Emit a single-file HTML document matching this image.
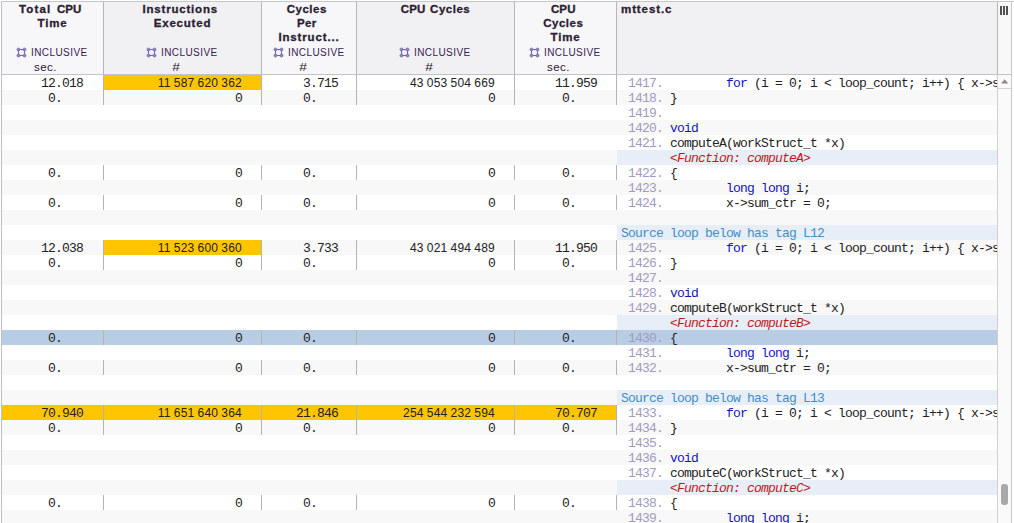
<!DOCTYPE html>
<html><head><meta charset="utf-8"><title>mttest.c</title>
<style>
html,body{margin:0;padding:0;}
body{width:1014px;height:523px;overflow:hidden;background:#fff;position:relative;font-family:"Liberation Sans",sans-serif;color:#222;}
div,span{box-sizing:border-box;}
.a{position:absolute;}
.row{position:absolute;left:2px;width:995px;height:15px;}
.m{position:absolute;top:1px;height:15px;line-height:15px;font-family:"Liberation Mono",monospace;font-size:13px;letter-spacing:-0.8px;white-space:pre;color:#222;}
.n{position:absolute;top:1px;height:15px;line-height:15px;font-family:"Liberation Sans",sans-serif;font-size:12px;letter-spacing:0.25px;word-spacing:-0.6px;white-space:pre;color:#222;text-align:right;}
.c{position:absolute;top:1px;left:621px;height:15px;line-height:15px;font-family:"Liberation Mono",monospace;font-size:13px;letter-spacing:-0.8px;white-space:pre;color:#222;}
.ln{color:#A19BBD;}
.k{color:#1414BE;}
.fn{color:#C01818;font-style:italic;}
.lp{color:#3F8FC6;}
.sep{position:absolute;top:0;width:1px;height:15px;background:#B4B4B4;}
.hd{position:absolute;top:2px;height:72px;}
.ht{position:absolute;left:0;right:0;top:0;text-align:center;font-weight:bold;font-size:11.5px;line-height:14px;letter-spacing:0.62px;-webkit-text-stroke:0.3px #2A2030;color:#2A2030;}
.hi{position:absolute;top:43px;height:15px;text-align:left;font-size:10px;letter-spacing:0.42px;line-height:15px;color:#38204F;white-space:nowrap;}
.hu{position:absolute;left:0;right:14px;top:58px;height:15px;text-align:center;font-size:11.5px;letter-spacing:0.5px;line-height:15px;color:#2A2030;}
.ht i{display:inline-block;width:4.5px;}
.hi svg{vertical-align:-1.5px;margin-right:4px;margin-left:-1px;}
</style></head><body>

<div class="a" style="left:2px;top:75px;width:995px;height:15px;background:#fff"></div>
<div class="a" style="left:2px;top:90px;width:995px;height:15px;background:#F8F8F8"></div>
<div class="a" style="left:2px;top:105px;width:995px;height:15px;background:#fff"></div>
<div class="a" style="left:2px;top:120px;width:995px;height:15px;background:#F8F8F8"></div>
<div class="a" style="left:2px;top:135px;width:995px;height:15px;background:#fff"></div>
<div class="a" style="left:2px;top:150px;width:995px;height:15px;background:#F8F8F8"></div>
<div class="a" style="left:2px;top:165px;width:995px;height:15px;background:#fff"></div>
<div class="a" style="left:2px;top:180px;width:995px;height:15px;background:#F8F8F8"></div>
<div class="a" style="left:2px;top:195px;width:995px;height:15px;background:#fff"></div>
<div class="a" style="left:2px;top:210px;width:995px;height:15px;background:#F8F8F8"></div>
<div class="a" style="left:2px;top:225px;width:995px;height:15px;background:#fff"></div>
<div class="a" style="left:2px;top:240px;width:995px;height:15px;background:#F8F8F8"></div>
<div class="a" style="left:2px;top:255px;width:995px;height:15px;background:#fff"></div>
<div class="a" style="left:2px;top:270px;width:995px;height:15px;background:#F8F8F8"></div>
<div class="a" style="left:2px;top:285px;width:995px;height:15px;background:#fff"></div>
<div class="a" style="left:2px;top:300px;width:995px;height:15px;background:#F8F8F8"></div>
<div class="a" style="left:2px;top:315px;width:995px;height:15px;background:#fff"></div>
<div class="a" style="left:2px;top:330px;width:995px;height:15px;background:#F8F8F8"></div>
<div class="a" style="left:2px;top:345px;width:995px;height:15px;background:#fff"></div>
<div class="a" style="left:2px;top:360px;width:995px;height:15px;background:#F8F8F8"></div>
<div class="a" style="left:2px;top:375px;width:995px;height:15px;background:#fff"></div>
<div class="a" style="left:2px;top:390px;width:995px;height:15px;background:#F8F8F8"></div>
<div class="a" style="left:2px;top:405px;width:995px;height:15px;background:#fff"></div>
<div class="a" style="left:2px;top:420px;width:995px;height:15px;background:#F8F8F8"></div>
<div class="a" style="left:2px;top:435px;width:995px;height:15px;background:#fff"></div>
<div class="a" style="left:2px;top:450px;width:995px;height:15px;background:#F8F8F8"></div>
<div class="a" style="left:2px;top:465px;width:995px;height:15px;background:#fff"></div>
<div class="a" style="left:2px;top:480px;width:995px;height:15px;background:#F8F8F8"></div>
<div class="a" style="left:2px;top:495px;width:995px;height:15px;background:#fff"></div>
<div class="a" style="left:2px;top:510px;width:995px;height:15px;background:#F8F8F8"></div>
<div class="hd" style="left:2px;width:101px;background:#F7F7FA">
<div class="ht" style="top:0px"><span style="letter-spacing:1.15px">Total</span><span style="letter-spacing:0;word-spacing:2.30px"> </span><span style="letter-spacing:0.10px">CPU</span><i></i><br><span style="letter-spacing:0.85px">Time</span></div>
<svg class="a" style="left:14px;top:45px" width="12" height="12" viewBox="0 0 12 12"><rect x="2.5" y="2.5" width="6" height="6" fill="none" stroke="#7367AD" stroke-width="1"/><g fill="#8F85C0" stroke="#6B5EA7" stroke-width="0.6"><circle cx="2.5" cy="2.5" r="1.55"/><circle cx="8.5" cy="2.5" r="1.55"/><circle cx="2.5" cy="8.5" r="1.55"/><circle cx="8.5" cy="8.5" r="1.55"/></g></svg>
<div class="hi" style="left:29px">INCLUSIVE</div>
<div class="hu">sec.</div>
</div>
<div class="hd" style="left:104px;width:157px;background:#F1F1F4">
<div class="ht" style="top:0px"><span style="letter-spacing:0.80px">Instructions</span><i></i><br><span style="letter-spacing:0.80px">Executed</span></div>
<svg class="a" style="left:42px;top:45px" width="12" height="12" viewBox="0 0 12 12"><rect x="2.5" y="2.5" width="6" height="6" fill="none" stroke="#7367AD" stroke-width="1"/><g fill="#8F85C0" stroke="#6B5EA7" stroke-width="0.6"><circle cx="2.5" cy="2.5" r="1.55"/><circle cx="8.5" cy="2.5" r="1.55"/><circle cx="2.5" cy="8.5" r="1.55"/><circle cx="8.5" cy="8.5" r="1.55"/></g></svg>
<div class="hi" style="left:57px">INCLUSIVE</div>
<div class="hu"><span style="display:inline-block;transform:scaleX(1.2);position:relative;left:1px">#</span></div>
</div>
<div class="hd" style="left:262px;width:94px;background:#F7F7FA">
<div class="ht" style="top:0px"><span style="letter-spacing:0.50px">Cycles</span><i></i><br><span style="letter-spacing:0.30px">Per</span><i></i><br><span style="letter-spacing:0.85px">Instruct...</span></div>
<svg class="a" style="left:11px;top:45px" width="12" height="12" viewBox="0 0 12 12"><rect x="2.5" y="2.5" width="6" height="6" fill="none" stroke="#7367AD" stroke-width="1"/><g fill="#8F85C0" stroke="#6B5EA7" stroke-width="0.6"><circle cx="2.5" cy="2.5" r="1.55"/><circle cx="8.5" cy="2.5" r="1.55"/><circle cx="2.5" cy="8.5" r="1.55"/><circle cx="8.5" cy="8.5" r="1.55"/></g></svg>
<div class="hi" style="left:26px">INCLUSIVE</div>
<div class="hu"><span style="display:inline-block;transform:scaleX(1.2);position:relative;left:1px">#</span></div>
</div>
<div class="hd" style="left:357px;width:157px;background:#F1F1F4">
<div class="ht" style="top:0px"><span style="letter-spacing:0.10px">CPU</span><span style="letter-spacing:0;word-spacing:1.50px"> </span><span style="letter-spacing:0.50px">Cycles</span></div>
<svg class="a" style="left:42px;top:45px" width="12" height="12" viewBox="0 0 12 12"><rect x="2.5" y="2.5" width="6" height="6" fill="none" stroke="#7367AD" stroke-width="1"/><g fill="#8F85C0" stroke="#6B5EA7" stroke-width="0.6"><circle cx="2.5" cy="2.5" r="1.55"/><circle cx="8.5" cy="2.5" r="1.55"/><circle cx="2.5" cy="8.5" r="1.55"/><circle cx="8.5" cy="8.5" r="1.55"/></g></svg>
<div class="hi" style="left:57px">INCLUSIVE</div>
<div class="hu"><span style="display:inline-block;transform:scaleX(1.2);position:relative;left:1px">#</span></div>
</div>
<div class="hd" style="left:515px;width:101px;background:#F7F7FA">
<div class="ht" style="top:0px"><span style="letter-spacing:0.10px">CPU</span><i></i><br><span style="letter-spacing:0.50px">Cycles</span><i></i><br><span style="letter-spacing:0.85px">Time</span></div>
<svg class="a" style="left:14px;top:45px" width="12" height="12" viewBox="0 0 12 12"><rect x="2.5" y="2.5" width="6" height="6" fill="none" stroke="#7367AD" stroke-width="1"/><g fill="#8F85C0" stroke="#6B5EA7" stroke-width="0.6"><circle cx="2.5" cy="2.5" r="1.55"/><circle cx="8.5" cy="2.5" r="1.55"/><circle cx="2.5" cy="8.5" r="1.55"/><circle cx="8.5" cy="8.5" r="1.55"/></g></svg>
<div class="hi" style="left:29px">INCLUSIVE</div>
<div class="hu">sec.</div>
</div>
<div class="hd" style="left:617px;width:380px;background:#F1F1F4"><div class="ht" style="top:0px;text-align:left;left:4px"><span style="letter-spacing:0.90px">mttest.c</span></div></div>
<div class="hd" style="left:998px;width:13px;background:#F8F8F8"></div>
<div class="a" style="left:1000px;top:6px;width:2px;height:9px;background:#505050"></div>
<div class="a" style="left:1003px;top:6px;width:2px;height:9px;background:#505050"></div>
<div class="a" style="left:1006px;top:6px;width:2px;height:9px;background:#505050"></div>
<div class="a" style="left:103px;top:2px;width:1px;height:72px;background:#B6B6BA"></div>
<div class="a" style="left:261px;top:2px;width:1px;height:72px;background:#B6B6BA"></div>
<div class="a" style="left:356px;top:2px;width:1px;height:72px;background:#B6B6BA"></div>
<div class="a" style="left:514px;top:2px;width:1px;height:72px;background:#B6B6BA"></div>
<div class="a" style="left:616px;top:2px;width:1px;height:72px;background:#B6B6BA"></div>
<div class="a" style="left:997px;top:2px;width:1px;height:72px;background:#B6B6BA"></div>
<div class="a" style="left:1px;top:1px;width:1013px;height:1px;background:#C6C6CA"></div>
<div class="a" style="left:1px;top:1px;width:1px;height:522px;background:#BEBEC2"></div>
<div class="a" style="left:1011px;top:1px;width:1px;height:522px;background:#C9C9CD"></div>
<div class="a" style="left:2px;top:74px;width:1009px;height:1px;background:#C2C2C8"></div>
<div class="a" style="left:997px;top:75px;width:1px;height:448px;background:#D0D0D2"></div>
<div class="a" style="left:998px;top:75px;width:13px;height:448px;background:#FAFAFA"></div>
<div class="a" style="left:998px;top:88px;width:13px;height:1px;background:#D2D2D6"></div>
<svg class="a" style="left:998px;top:75px" width="13" height="15" viewBox="0 0 13 15"><path d="M3.1 8.4 L6.65 4.3 L10.2 8.4 Z" fill="#888"/></svg>
<div class="a" style="left:1001px;top:484px;width:7px;height:21px;border-radius:3px;background:#A9A9A9"></div>
<div class="row" style="top:75px">
<div class="a" style="left:102px;top:0;width:157px;height:15px;background:#FFC600"></div>
<div class="sep" style="left:101px"></div>
<div class="sep" style="left:259px"></div>
<div class="sep" style="left:354px"></div>
<div class="sep" style="left:512px"></div>
<div class="sep" style="left:614px"></div>
<div class="m" style="left:39px">12.018</div>
<div class="n" style="left:120px;width:120px">11 587 620 362</div>
<div class="m" style="left:301px">3.715</div>
<div class="n" style="left:373px;width:120px">43 053 504 669</div>
<div class="m" style="left:553px">11.959</div>
<div class="c" style="left:619px;width:376px;overflow:hidden"><span class="ln"> 1417.</span>         <span class="k">for</span> (i = 0; i &lt; loop_count; i++) { x-&gt;sum_ctr++;</div>
</div>
<div class="row" style="top:90px">
<div class="sep" style="left:101px"></div>
<div class="sep" style="left:259px"></div>
<div class="sep" style="left:354px"></div>
<div class="sep" style="left:512px"></div>
<div class="sep" style="left:614px"></div>
<div class="m" style="left:46px">0.</div>
<div class="m" style="left:233px">0</div>
<div class="m" style="left:301px">0.</div>
<div class="m" style="left:486px">0</div>
<div class="m" style="left:560px">0.</div>
<div class="c" style="left:619px;width:376px;overflow:hidden"><span class="ln"> 1418.</span> }</div>
</div>
<div class="row" style="top:105px">
<div class="c" style="left:619px;width:376px;overflow:hidden"><span class="ln"> 1419.</span> </div>
</div>
<div class="row" style="top:120px">
<div class="c" style="left:619px;width:376px;overflow:hidden"><span class="ln"> 1420.</span> <span class="k">void</span></div>
</div>
<div class="row" style="top:135px">
<div class="c" style="left:619px;width:376px;overflow:hidden"><span class="ln"> 1421.</span> computeA(workStruct_t *x)</div>
</div>
<div class="row" style="top:150px">
<div class="a" style="left:615px;top:0;width:380px;height:15px;background:#E8EEF8"></div>
<div class="c" style="left:668px"><span class="fn">&lt;Function: computeA&gt;</span></div>
</div>
<div class="row" style="top:165px">
<div class="sep" style="left:101px"></div>
<div class="sep" style="left:259px"></div>
<div class="sep" style="left:354px"></div>
<div class="sep" style="left:512px"></div>
<div class="sep" style="left:614px"></div>
<div class="m" style="left:46px">0.</div>
<div class="m" style="left:233px">0</div>
<div class="m" style="left:301px">0.</div>
<div class="m" style="left:486px">0</div>
<div class="m" style="left:560px">0.</div>
<div class="c" style="left:619px;width:376px;overflow:hidden"><span class="ln"> 1422.</span> {</div>
</div>
<div class="row" style="top:180px">
<div class="c" style="left:619px;width:376px;overflow:hidden"><span class="ln"> 1423.</span>         <span class="k">long</span> <span class="k">long</span> i;</div>
</div>
<div class="row" style="top:195px">
<div class="sep" style="left:101px"></div>
<div class="sep" style="left:259px"></div>
<div class="sep" style="left:354px"></div>
<div class="sep" style="left:512px"></div>
<div class="sep" style="left:614px"></div>
<div class="m" style="left:46px">0.</div>
<div class="m" style="left:233px">0</div>
<div class="m" style="left:301px">0.</div>
<div class="m" style="left:486px">0</div>
<div class="m" style="left:560px">0.</div>
<div class="c" style="left:619px;width:376px;overflow:hidden"><span class="ln"> 1424.</span>         x-&gt;sum_ctr = 0;</div>
</div>
<div class="row" style="top:210px">
</div>
<div class="row" style="top:225px">
<div class="a" style="left:615px;top:0;width:380px;height:15px;background:#E8EEF8"></div>
<div class="c" style="left:619px"><span class="lp">Source loop below has tag L12</span></div>
</div>
<div class="row" style="top:240px">
<div class="a" style="left:102px;top:0;width:157px;height:15px;background:#FFC600"></div>
<div class="sep" style="left:101px"></div>
<div class="sep" style="left:259px"></div>
<div class="sep" style="left:354px"></div>
<div class="sep" style="left:512px"></div>
<div class="sep" style="left:614px"></div>
<div class="m" style="left:39px">12.038</div>
<div class="n" style="left:120px;width:120px">11 523 600 360</div>
<div class="m" style="left:301px">3.733</div>
<div class="n" style="left:373px;width:120px">43 021 494 489</div>
<div class="m" style="left:553px">11.950</div>
<div class="c" style="left:619px;width:376px;overflow:hidden"><span class="ln"> 1425.</span>         <span class="k">for</span> (i = 0; i &lt; loop_count; i++) { x-&gt;sum_ctr++;</div>
</div>
<div class="row" style="top:255px">
<div class="sep" style="left:101px"></div>
<div class="sep" style="left:259px"></div>
<div class="sep" style="left:354px"></div>
<div class="sep" style="left:512px"></div>
<div class="sep" style="left:614px"></div>
<div class="m" style="left:46px">0.</div>
<div class="m" style="left:233px">0</div>
<div class="m" style="left:301px">0.</div>
<div class="m" style="left:486px">0</div>
<div class="m" style="left:560px">0.</div>
<div class="c" style="left:619px;width:376px;overflow:hidden"><span class="ln"> 1426.</span> }</div>
</div>
<div class="row" style="top:270px">
<div class="c" style="left:619px;width:376px;overflow:hidden"><span class="ln"> 1427.</span> </div>
</div>
<div class="row" style="top:285px">
<div class="c" style="left:619px;width:376px;overflow:hidden"><span class="ln"> 1428.</span> <span class="k">void</span></div>
</div>
<div class="row" style="top:300px">
<div class="c" style="left:619px;width:376px;overflow:hidden"><span class="ln"> 1429.</span> computeB(workStruct_t *x)</div>
</div>
<div class="row" style="top:315px">
<div class="a" style="left:615px;top:0;width:380px;height:15px;background:#E8EEF8"></div>
<div class="c" style="left:668px"><span class="fn">&lt;Function: computeB&gt;</span></div>
</div>
<div class="row" style="top:330px">
<div class="a" style="left:0;top:0;width:995px;height:15px;background:#B8CCE4"></div>
<div class="sep" style="left:101px"></div>
<div class="sep" style="left:259px"></div>
<div class="sep" style="left:354px"></div>
<div class="sep" style="left:512px"></div>
<div class="sep" style="left:614px"></div>
<div class="m" style="left:46px">0.</div>
<div class="m" style="left:233px">0</div>
<div class="m" style="left:301px">0.</div>
<div class="m" style="left:486px">0</div>
<div class="m" style="left:560px">0.</div>
<div class="c" style="left:619px;width:376px;overflow:hidden"><span class="ln"> 1430.</span> {</div>
</div>
<div class="row" style="top:345px">
<div class="c" style="left:619px;width:376px;overflow:hidden"><span class="ln"> 1431.</span>         <span class="k">long</span> <span class="k">long</span> i;</div>
</div>
<div class="row" style="top:360px">
<div class="sep" style="left:101px"></div>
<div class="sep" style="left:259px"></div>
<div class="sep" style="left:354px"></div>
<div class="sep" style="left:512px"></div>
<div class="sep" style="left:614px"></div>
<div class="m" style="left:46px">0.</div>
<div class="m" style="left:233px">0</div>
<div class="m" style="left:301px">0.</div>
<div class="m" style="left:486px">0</div>
<div class="m" style="left:560px">0.</div>
<div class="c" style="left:619px;width:376px;overflow:hidden"><span class="ln"> 1432.</span>         x-&gt;sum_ctr = 0;</div>
</div>
<div class="row" style="top:375px">
</div>
<div class="row" style="top:390px">
<div class="a" style="left:615px;top:0;width:380px;height:15px;background:#E8EEF8"></div>
<div class="c" style="left:619px"><span class="lp">Source loop below has tag L13</span></div>
</div>
<div class="row" style="top:405px">
<div class="a" style="left:0;top:0;width:615px;height:15px;background:#FFC600"></div>
<div class="sep" style="left:101px"></div>
<div class="sep" style="left:259px"></div>
<div class="sep" style="left:354px"></div>
<div class="sep" style="left:512px"></div>
<div class="sep" style="left:614px"></div>
<div class="m" style="left:39px">70.940</div>
<div class="n" style="left:120px;width:120px">11 651 640 364</div>
<div class="m" style="left:294px">21.846</div>
<div class="n" style="left:373px;width:120px">254 544 232 594</div>
<div class="m" style="left:553px">70.707</div>
<div class="c" style="left:619px;width:376px;overflow:hidden"><span class="ln"> 1433.</span>         <span class="k">for</span> (i = 0; i &lt; loop_count; i++) { x-&gt;sum_ctr++;</div>
</div>
<div class="row" style="top:420px">
<div class="sep" style="left:101px"></div>
<div class="sep" style="left:259px"></div>
<div class="sep" style="left:354px"></div>
<div class="sep" style="left:512px"></div>
<div class="sep" style="left:614px"></div>
<div class="m" style="left:46px">0.</div>
<div class="m" style="left:233px">0</div>
<div class="m" style="left:301px">0.</div>
<div class="m" style="left:486px">0</div>
<div class="m" style="left:560px">0.</div>
<div class="c" style="left:619px;width:376px;overflow:hidden"><span class="ln"> 1434.</span> }</div>
</div>
<div class="row" style="top:435px">
<div class="c" style="left:619px;width:376px;overflow:hidden"><span class="ln"> 1435.</span> </div>
</div>
<div class="row" style="top:450px">
<div class="c" style="left:619px;width:376px;overflow:hidden"><span class="ln"> 1436.</span> <span class="k">void</span></div>
</div>
<div class="row" style="top:465px">
<div class="c" style="left:619px;width:376px;overflow:hidden"><span class="ln"> 1437.</span> computeC(workStruct_t *x)</div>
</div>
<div class="row" style="top:480px">
<div class="a" style="left:615px;top:0;width:380px;height:15px;background:#E8EEF8"></div>
<div class="c" style="left:668px"><span class="fn">&lt;Function: computeC&gt;</span></div>
</div>
<div class="row" style="top:495px">
<div class="sep" style="left:101px"></div>
<div class="sep" style="left:259px"></div>
<div class="sep" style="left:354px"></div>
<div class="sep" style="left:512px"></div>
<div class="sep" style="left:614px"></div>
<div class="m" style="left:46px">0.</div>
<div class="m" style="left:233px">0</div>
<div class="m" style="left:301px">0.</div>
<div class="m" style="left:486px">0</div>
<div class="m" style="left:560px">0.</div>
<div class="c" style="left:619px;width:376px;overflow:hidden"><span class="ln"> 1438.</span> {</div>
</div>
<div class="row" style="top:510px">
<div class="c" style="left:619px;width:376px;overflow:hidden"><span class="ln"> 1439.</span>         <span class="k">long</span> <span class="k">long</span> i;</div>
</div>
</body></html>
